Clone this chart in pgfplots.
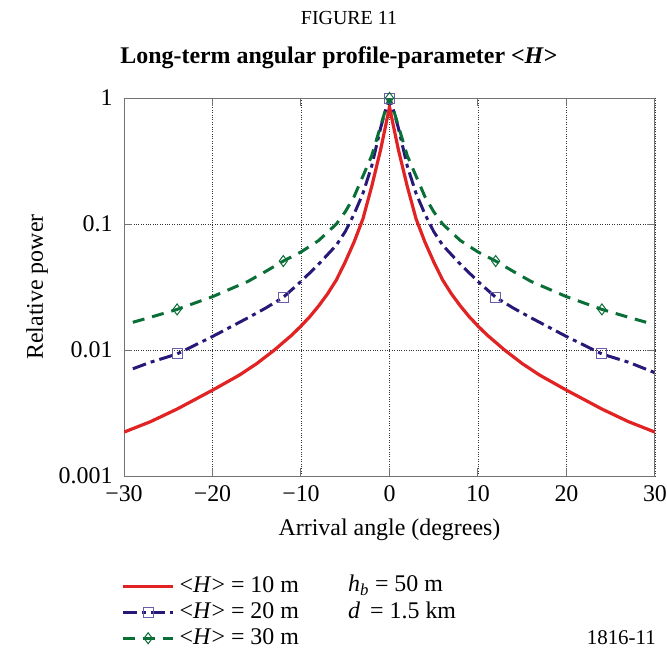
\documentclass[border=0pt]{standalone}
\usepackage{fontspec}
\setmainfont{Liberation Serif}
\usepackage{pgfplots}
\pgfplotsset{compat=1.18}
\definecolor{cred}{RGB}{225,35,35}
\definecolor{cblue}{RGB}{40,25,120}
\definecolor{cgreen}{RGB}{10,110,55}
\definecolor{cmark}{RGB}{110,90,170}
\begin{document}
\begin{tikzpicture}[font=\fontsize{24}{28}\selectfont]
\path[use as bounding box] (0,0) rectangle (667bp,651bp);
\begin{axis}[
  scale only axis, width=531bp, height=378bp,
  at={(124bp,175bp)}, anchor=south west,
  xmin=-30, xmax=30, ymode=log, ymin=0.001, ymax=1,
  xtick={-30,-20,-10,0,10,20,30},
  xticklabels={−30,−20,−10,0,10,20,30},
  ytick={0.001,0.01,0.1,1},
  yticklabels={0.001,0.01,0.1,1},
  minor ytick={}, yminorticks=false,
  grid=major,
  major grid style={dotted, black!80, line width=0.9bp},
  axis line style={black!55, line width=1bp},
  tick style={black!55, line width=1bp},
  major tick length=8bp, tick align=inside,
  xticklabel style={yshift=-6bp},
  yticklabel style={xshift=-8bp},
  xlabel={Arrival angle (degrees)},
  ylabel={Relative power},
  xlabel style={yshift=-10bp},
  ylabel style={yshift=4bp},
  legend style={at={(-0.005,-0.262)}, anchor=north west, draw=none, fill=none,
    inner sep=0pt, row sep=4bp,
    nodes={inner sep=0pt, text height=17bp, text depth=5bp},
    /tikz/every odd column/.append style={column sep=5bp}},
  legend cell align=left,
  legend image code/.code={\draw[#1, mark indices={2}] plot coordinates {(0bp,0bp) (25bp,0bp) (50bp,0bp)};},
]
\addplot[cred, line width=3.2bp] coordinates {
(-30,0.00223) (-27,0.0027) (-24,0.0034) (-20,0.0048) (-17,0.0063) (-15,0.0078) (-13,0.0100) (-12,0.0115) (-11,0.0132) (-10,0.0155) (-9,0.0184) (-8,0.0224) (-7,0.0279) (-6,0.036) (-5,0.050) (-4,0.072) (-3,0.11) (-2,0.20) (-1,0.39) (-0.4,0.62) (0,0.85)
(0.4,0.62) (1,0.39) (2,0.20) (3,0.11) (4,0.072) (5,0.050) (6,0.036) (7,0.0279) (8,0.0224) (9,0.0184) (10,0.0155) (11,0.0132) (12,0.0115) (13,0.0100) (15,0.0078) (17,0.0063) (20,0.0048) (24,0.0034) (27,0.0027) (30,0.00223)
};
\addlegendentry{<\textit{H}> = 10 m}
\addplot[cblue, line width=3bp, dash pattern=on 14bp off 5bp on 4bp off 5bp,
  mark=square, mark size=5bp, mark indices={3,7,17,27,31},
  mark options={solid, draw=cmark, fill=white, line width=1bp}] coordinates {
(-29,0.0071) (-27,0.0080) (-24,0.0093) (-20,0.0128) (-16,0.0180) (-14,0.0215) (-12,0.0262) (-10,0.035) (-8,0.048) (-6,0.068) (-5,0.087) (-4,0.12) (-3,0.175) (-2,0.29) (-1,0.58) (-0.4,0.82) (0,1)
(0.4,0.82) (1,0.58) (2,0.29) (3,0.175) (4,0.12) (5,0.087) (6,0.068) (8,0.048) (10,0.035) (12,0.0262) (14,0.0215) (16,0.0180) (20,0.0128) (24,0.0093) (27,0.0080) (30,0.0066)
};
\addlegendentry{<\textit{H}> = 20 m}
\addplot[cgreen, line width=3bp, dash pattern=on 12bp off 8bp,
  mark=diamond, mark size=5.5bp, mark indices={3,7,17,27,31},
  mark options={solid, draw=cgreen, fill=white, line width=1bp}] coordinates {
(-29,0.0166) (-27,0.0182) (-24,0.021) (-20,0.0265) (-16,0.035) (-14,0.042) (-12,0.0508) (-10,0.060) (-8,0.074) (-6,0.10) (-5,0.125) (-4,0.165) (-3,0.24) (-2,0.35) (-1,0.60) (-0.4,0.83) (0,1)
(0.4,0.83) (1,0.60) (2,0.35) (3,0.24) (4,0.165) (5,0.125) (6,0.10) (8,0.074) (10,0.060) (12,0.0508) (14,0.042) (16,0.035) (20,0.0265) (24,0.021) (27,0.0182) (29,0.0166)
};
\addlegendentry{<\textit{H}> = 30 m}
\end{axis}
\node[font=\fontsize{20}{24}\selectfont] at (349bp,633bp) {FIGURE 11};
\node[font=\fontsize{24}{28}\selectfont\bfseries] at (339bp,593bp) {Long-term angular profile-parameter <\textit{H}>};
\node[anchor=base west, inner sep=0pt] at (348bp,59bp) {\textit{h}\textsubscript{\textit{b}} = 50 m};
\node[anchor=base west, inner sep=0pt] at (348bp,33bp) {\textit{d}\, = 1.5 km};
\node[anchor=base east, inner sep=0pt, font=\fontsize{21}{24}\selectfont] at (656bp,7bp) {1816-11};
\end{tikzpicture}
\end{document}
